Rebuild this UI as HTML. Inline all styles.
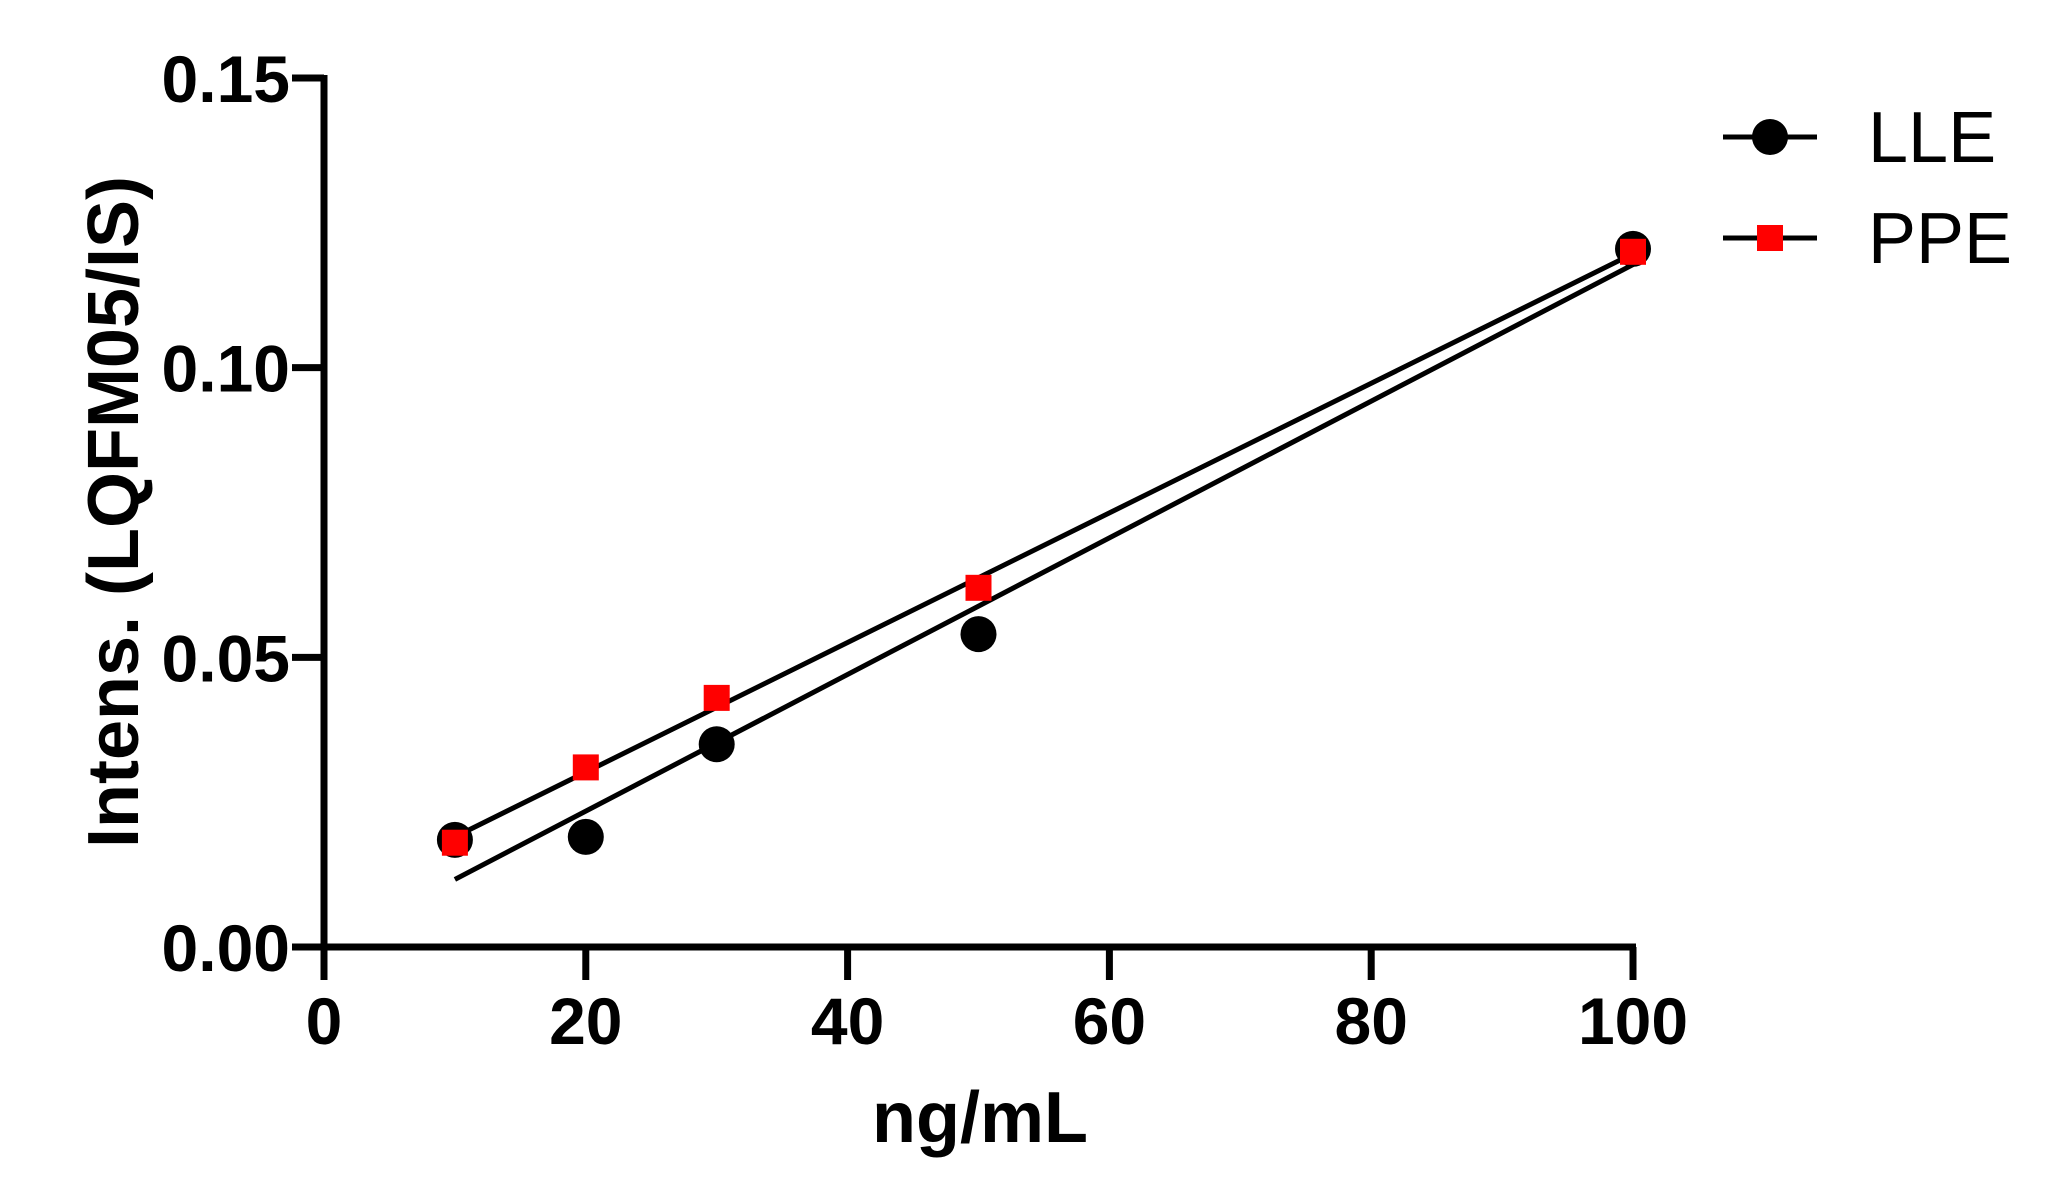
<!DOCTYPE html>
<html><head><meta charset="utf-8"><style>
html,body{margin:0;padding:0;background:#fff;}
svg{display:block;font-family:"Liberation Sans",Arial,sans-serif;}
</style></head><body>
<svg id="chart" width="2062" height="1190" viewBox="0 0 2062 1190"></svg>
<script>
const categories = [10, 20, 30, 50, 100];
const lleValues = [0.0185, 0.019, 0.035, 0.054, 0.1205];
const ppeValues = [0.018, 0.031, 0.043, 0.062, 0.120];
const xTicks = [0, 20, 40, 60, 80, 100];
const yTicks = [0.00, 0.05, 0.10, 0.15];
const yTickLabels = ["0.00", "0.05", "0.10", "0.15"];

const NS = "http://www.w3.org/2000/svg";
const svg = document.getElementById('chart');
const X0 = 324, X1 = 1633, Y0 = 947, Y1 = 78;
function xs(v){ return X0 + (v - 0) / 100 * (X1 - X0); }
function ys(v){ return Y0 - (v - 0) / 0.15 * (Y0 - Y1); }
function mk(tag, attrs){ const e = document.createElementNS(NS, tag); for (const k in attrs) e.setAttribute(k, attrs[k]); svg.appendChild(e); return e; }

let a = mk('line', {x1: X0, y1: Y1 - 3, x2: X0, y2: Y0 + 3, stroke: '#000', 'stroke-width': 7});


a = mk('line', {x1: X0 - 3, y1: Y0, x2: xs(100) + 3, y2: Y0, stroke: '#000', 'stroke-width': 7});



yTicks.forEach((t, i) => {
  const y = ys(t);
  const l = mk('line', {x1: 292, y1: y, x2: X0, y2: y, stroke: '#000', 'stroke-width': 7});
  
  
  const tx = mk('text', {x: 290, y: y + 24, 'text-anchor': 'end', 'font-size': 66, 'font-weight': 'bold'});
  tx.textContent = yTickLabels[i];
  
  
});
xTicks.forEach(t => {
  const x = xs(t);
  const l = mk('line', {x1: x, y1: Y0, x2: x, y2: 980, stroke: '#000', 'stroke-width': 7});
  
  
  const tx = mk('text', {x: x, y: 1044, 'text-anchor': 'middle', 'font-size': 66, 'font-weight': 'bold'});
  tx.textContent = String(t);
  
  
});

let t = mk('text', {x: 980, y: 1142, 'text-anchor': 'middle', 'font-size': 72, 'font-weight': 'bold'});
t.textContent = 'ng/mL';


t = mk('text', {x: 0, y: 0, 'text-anchor': 'middle', 'font-size': 72, 'font-weight': 'bold', transform: 'translate(138,512) rotate(-90)'});
t.textContent = 'Intens. (LQFM05/IS)';



function fit(vals){
  const n = categories.length;
  const mx = categories.reduce((s,v)=>s+v,0)/n, my = vals.reduce((s,v)=>s+v,0)/n;
  let sxy = 0, sxx = 0;
  categories.forEach((x,i)=>{ sxy += (x-mx)*(vals[i]-my); sxx += (x-mx)*(x-mx); });
  const m = sxy/sxx; return [m, my - m*mx];
}
const xmin = Math.min(...categories), xmax = Math.max(...categories);
[[lleValues,'lle-fit-line'],[ppeValues,'ppe-fit-line']].forEach(([vals,name])=>{
  const [m,b] = fit(vals);
  const l = mk('line', {x1: xs(xmin), y1: ys(m*xmin+b), x2: xs(xmax), y2: ys(m*xmax+b), stroke: '#000', 'stroke-width': 5});
  
  
});

categories.forEach((c,i)=>{
  const p = mk('circle', {cx: xs(c), cy: ys(lleValues[i]), r: 18, fill: '#000'});
  
  
});
categories.forEach((c,i)=>{
  const p = mk('rect', {x: xs(c) - 13, y: ys(ppeValues[i]) - 13, width: 26, height: 26, fill: '#f00'});
  
  
});

let g = mk('line', {x1: 1723, y1: 137, x2: 1817, y2: 137, stroke: '#000', 'stroke-width': 5});


g = mk('circle', {cx: 1770, cy: 137, r: 18, fill: '#000'});


g = mk('text', {x: 1868, y: 162, 'font-size': 72});
g.textContent = 'LLE';


g = mk('line', {x1: 1723, y1: 238, x2: 1817, y2: 238, stroke: '#000', 'stroke-width': 5});


g = mk('rect', {x: 1757, y: 225, width: 26, height: 26, fill: '#f00'});


g = mk('text', {x: 1868, y: 263, 'font-size': 72});
g.textContent = 'PPE';


</script>
</body></html>
